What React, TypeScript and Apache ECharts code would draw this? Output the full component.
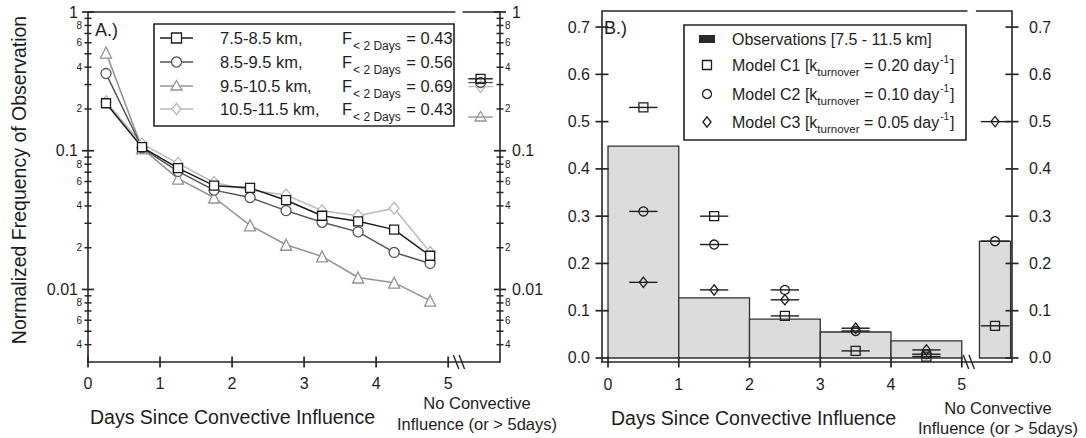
import React, { useEffect, useRef } from 'react';
import * as echarts from 'echarts';

const FONT = '"Liberation Sans", Arial, Helvetica, sans-serif';
const INK = '#1e1e1e';
const AXIS = '#262626';

// ---------- Panel A: normalized frequency per altitude layer ----------
const daysA = [0.25, 0.75, 1.25, 1.75, 2.25, 2.75, 3.25, 3.75, 4.25, 4.75];
const layerNames = ['7.5-8.5 km,', '8.5-9.5 km,', '9.5-10.5 km,', '10.5-11.5 km,'];
const fracUnder2Days = ['0.43', '0.56', '0.69', '0.43'];
const freqL1 = [0.22, 0.106, 0.075, 0.056, 0.054, 0.044, 0.034, 0.031, 0.027, 0.0175];
const freqL2 = [0.36, 0.105, 0.071, 0.052, 0.046, 0.037, 0.0305, 0.026, 0.0185, 0.0154];
const freqL3 = [0.51, 0.104, 0.063, 0.046, 0.029, 0.021, 0.0173, 0.0122, 0.0112, 0.0083];
const freqL4 = [0.225, 0.112, 0.081, 0.059, 0.052, 0.048, 0.037, 0.034, 0.0385, 0.0185];
const freqLayers = [freqL1, freqL2, freqL3, freqL4];
// frequency with no convective influence (or > 5 days), per layer
const noConvA = [0.33, 0.31, 0.175, 0.29];
const noConvDayA = 5.45;

// ---------- Panel B: observations vs. model turnover rates ----------
const obsStart = [0, 1, 2, 3, 4];
const obsEnd = [1, 2, 3, 4, 5];
const obsFreq = [0.448, 0.127, 0.082, 0.055, 0.036];
const noConvBarStart = 5.25;
const noConvBarEnd = 5.69;
const noConvObs = 0.247;
const daysB = [0.5, 1.5, 2.5, 3.5, 4.5, 5.47];
const modelC1 = [0.53, 0.3, 0.089, 0.015, 0.003, 0.068];
const modelC2 = [0.31, 0.24, 0.144, 0.057, 0.008, 0.247];
const modelC3 = [0.16, 0.144, 0.123, 0.063, 0.017, 0.5];
const modelNames = ['Model C1', 'Model C2', 'Model C3'];
const modelRates = ['0.20', '0.10', '0.05'];

// ---------- axis ticks ----------
const xTicks = [0, 1, 2, 3, 4, 5];
const logMajor = [0.01, 0.1, 1];
const logMinor = [
  0.004, 0.005, 0.006, 0.007, 0.008, 0.009,
  0.02, 0.03, 0.04, 0.05, 0.06, 0.07, 0.08, 0.09,
  0.2, 0.3, 0.4, 0.5, 0.6, 0.7, 0.8, 0.9,
];
const logLabels = [0.004, 0.006, 0.008, 0.01, 0.02, 0.04, 0.06, 0.08, 0.1, 0.2, 0.4, 0.6, 0.8, 1];
const linTicksB = [0, 0.1, 0.2, 0.3, 0.4, 0.5, 0.6, 0.7];

// axis extents
const A_XMIN = 0, A_XMAX = 5.72, A_YMIN = 0.003, A_YMAX = 1;
const B_XMIN = -0.085, B_XMAX = 5.71, B_YMIN = -0.0085, B_YMAX = 0.734;
// axis-break positions (days)
const breakA = [5.11, 5.19];
const breakB = [5.06, 5.14];

const layerColors = ['#1c1c1c', '#555555', '#939393', '#b9b9b9'];
const layerSymbols = ['rect', 'circle', 'triangle', 'diamond'];
const layerSymbolSizes: any[] = [9, 10, 11, [10, 12]];
const modelSymbols = ['rect', 'circle', 'diamond'];

function markerEl(kind: string, cx: number, cy: number, s: number, stroke: string, fill: string) {
  const h = s / 2;
  const style = { fill, stroke, lineWidth: 1.3 };
  if (kind === 'rect') return { type: 'rect', shape: { x: cx - h, y: cy - h, width: s, height: s }, style };
  if (kind === 'circle') return { type: 'circle', shape: { cx, cy, r: h }, style };
  if (kind === 'triangle')
    return {
      type: 'polygon',
      shape: { points: [[cx, cy - h * 1.1], [cx + h * 1.1, cy + h * 0.8], [cx - h * 1.1, cy + h * 0.8]] },
      style,
    };
  return {
    type: 'polygon',
    shape: { points: [[cx, cy - h * 1.15], [cx + h * 0.9, cy], [cx, cy + h * 1.15], [cx - h * 0.9, cy]] },
    style,
  };
}

// marker with a short horizontal bar through it
function markerSeries(name: string, xi: number, yi: number, data: number[][], kind: string, color: string, hw: number, size: number, z: number) {
  return {
    type: 'custom',
    name,
    xAxisIndex: xi,
    yAxisIndex: yi,
    z,
    clip: false,
    silent: true,
    data,
    encode: { x: 0, y: 1 },
    renderItem: (_p: any, api: any) => {
      const x = api.value(0), y = api.value(1);
      const c = api.coord([x, y]);
      const l = api.coord([x - hw, y]);
      const r = api.coord([x + hw, y]);
      return {
        type: 'group',
        children: [
          { type: 'line', shape: { x1: l[0], y1: c[1], x2: r[0], y2: c[1] }, style: { stroke: color, lineWidth: 1.4 } },
          markerEl(kind, c[0], c[1], size, color, 'none'),
        ],
      };
    },
  };
}

// crossing tick marks drawn as thin rectangular scatter symbols centred on the axis line
function tickScatter(xi: number, yi: number, points: number[][], size: number[]) {
  return {
    type: 'scatter',
    xAxisIndex: xi,
    yAxisIndex: yi,
    z: 10,
    clip: false,
    silent: true,
    symbol: 'rect',
    symbolSize: size,
    itemStyle: { color: AXIS, opacity: 1 },
    data: points,
  };
}

// break slashes on the x axis
function slashSeries(xi: number, yi: number, points: number[][]) {
  return {
    type: 'custom',
    xAxisIndex: xi,
    yAxisIndex: yi,
    z: 10,
    clip: false,
    silent: true,
    data: points,
    encode: { x: 0, y: 1 },
    renderItem: (_p: any, api: any) => {
      const p = api.coord([api.value(0), api.value(1)]);
      return {
        type: 'line',
        shape: { x1: p[0] - 2.7, y1: p[1] - 7, x2: p[0] + 2.7, y2: p[1] + 7 },
        style: { stroke: AXIS, lineWidth: 1.4 },
      };
    },
  };
}

// straight frame segments in data coordinates
function frameSeries(xi: number, yi: number, segs: number[][]) {
  return {
    type: 'custom',
    xAxisIndex: xi,
    yAxisIndex: yi,
    z: 10,
    clip: false,
    silent: true,
    data: segs,
    encode: { x: [0, 2], y: [1, 3] },
    renderItem: (_p: any, api: any) => {
      const a = api.coord([api.value(0), api.value(1)]);
      const b = api.coord([api.value(2), api.value(3)]);
      return { type: 'line', shape: { x1: a[0], y1: a[1], x2: b[0], y2: b[1] }, style: { stroke: AXIS, lineWidth: 1.6 } };
    },
  };
}

function logLabel(v: number) {
  const e = Math.floor(Math.log10(v) + 1e-9);
  const m = Math.round(v / Math.pow(10, e));
  if (m === 1) return '{b|' + (v >= 1 ? '1' : v.toFixed(-e)) + '}';
  return '{s|' + m + '}';
}

function axisLineStyle() {
  return { show: true, onZero: false, lineStyle: { color: AXIS, width: 1.6 } };
}

function buildOption() {
  const series: any[] = [];

  // Panel A lines (lightest drawn first so the darker ones sit on top)
  [3, 2, 1, 0].forEach((i) => {
    series.push({
      type: 'line',
      name: layerNames[i],
      xAxisIndex: 0,
      yAxisIndex: 0,
      data: daysA.map((d, j) => [d, freqLayers[i][j]]),
      symbol: layerSymbols[i],
      symbolSize: layerSymbolSizes[i],
      showAllSymbol: true,
      lineStyle: { color: layerColors[i], width: 1.5 },
      itemStyle: { color: '#ffffff', borderColor: layerColors[i], borderWidth: 1.3 },
      silent: true,
    });
  });
  [3, 2, 1, 0].forEach((i) => {
    series.push(
      markerSeries('nc-' + layerNames[i], 0, 0, [[noConvDayA, noConvA[i]]], layerSymbols[i], layerColors[i], 0.17, i === 0 ? 9 : 10, 3)
    );
  });

  // Panel A ticks & breaks
  series.push(tickScatter(0, 0, xTicks.map((t) => [t, A_YMIN]), [1.7, 11]));
  series.push(tickScatter(0, 0, logMajor.map((v) => [A_XMIN, v]).concat(logMajor.map((v) => [A_XMAX, v])), [12, 1.7]));
  series.push(tickScatter(0, 0, logMinor.map((v) => [A_XMIN, v]).concat(logMinor.map((v) => [A_XMAX, v])), [7, 1.5]));
  series.push(slashSeries(0, 0, breakA.map((b) => [b, A_YMIN])));
  series.push(frameSeries(0, 0, [[A_XMIN, A_YMAX, 5.1, A_YMAX], [5.2, A_YMAX, A_XMAX, A_YMAX]]));

  // Panel B observation histogram
  const bars = obsStart.map((s, i) => [s, obsEnd[i], obsFreq[i]]);
  bars.push([noConvBarStart, noConvBarEnd, noConvObs]);
  series.push({
    type: 'custom',
    name: 'Observations',
    xAxisIndex: 1,
    yAxisIndex: 1,
    z: 2,
    silent: true,
    data: bars,
    encode: { x: [0, 1], y: 2 },
    renderItem: (_p: any, api: any) => {
      const p0 = api.coord([api.value(0), 0]);
      const p1 = api.coord([api.value(1), api.value(2)]);
      return {
        type: 'rect',
        shape: { x: p0[0], y: p1[1], width: p1[0] - p0[0], height: p0[1] - p1[1] },
        style: { fill: '#dcdcdc', stroke: '#303030', lineWidth: 1.3 },
      };
    },
  });
  [modelC1, modelC2, modelC3].forEach((m, k) => {
    series.push(markerSeries(modelNames[k], 1, 1, daysB.map((d, i) => [d, m[i]]), modelSymbols[k], '#1e1e1e', 0.2, 9, 4));
  });

  series.push(tickScatter(1, 1, xTicks.map((t) => [t, B_YMIN]), [1.7, 11]));
  series.push(tickScatter(1, 1, linTicksB.map((v) => [B_XMIN, v]).concat(linTicksB.map((v) => [B_XMAX, v])), [13, 1.7]));
  series.push(slashSeries(1, 1, breakB.map((b) => [b, B_YMIN])));
  series.push(frameSeries(1, 1, [[B_XMIN, B_YMAX, 5.08, B_YMAX], [5.2, B_YMAX, B_XMAX, B_YMAX]]));

  // ---------- graphic: legends, titles ----------
  const g: any[] = [];
  const txt = (text: string, x: number, y: number, size: number, extra: any = {}) => ({
    type: 'text',
    x,
    y,
    z: 20,
    silent: true,
    style: { text, fontSize: size, fontFamily: FONT, fill: INK, textVerticalAlign: 'middle', ...extra },
  });

  g.push(txt('A.)', 95, 30, 18));
  g.push(txt('B.)', 604, 28, 18));

  // Legend A
  g.push({ type: 'rect', z: 15, silent: true, shape: { x: 154, y: 24, width: 300, height: 102 }, style: { fill: '#fff', stroke: '#222', lineWidth: 1.6 } });
  const rowsA = [38, 62, 86, 109];
  layerNames.forEach((n, i) => {
    const y = rowsA[i];
    g.push({ type: 'line', z: 20, silent: true, shape: { x1: 160, y1: y, x2: 193, y2: y }, style: { stroke: layerColors[i], lineWidth: 1.5 } });
    const m: any = markerEl(layerSymbols[i], 176.5, y, 10, layerColors[i], '#fff');
    m.z = 21; m.silent = true;
    g.push(m);
    g.push(txt(n, 220, y, 16.5));
    g.push({
      type: 'text', x: 342, y, z: 20, silent: true,
      style: {
        text: '{f|F}{u|< 2 Days}{f| = ' + fracUnder2Days[i] + '}',
        textVerticalAlign: 'middle',
        rich: {
          f: { fontSize: 16.5, fontFamily: FONT, fill: INK, color: INK },
          u: { fontSize: 12, fontFamily: FONT, fill: INK, color: INK, padding: [15, 1, 0, 1] },
        },
      },
    });
  });

  // Legend B
  g.push({ type: 'rect', z: 15, silent: true, shape: { x: 684, y: 25, width: 282, height: 115 }, style: { fill: '#fff', stroke: '#222', lineWidth: 1.6 } });
  const rowsB = [39, 65, 94, 122];
  g.push({ type: 'rect', z: 20, silent: true, shape: { x: 699, y: 35, width: 16, height: 8 }, style: { fill: '#2a2a2a' } });
  g.push(txt('Observations [7.5 - 11.5 km]', 732, rowsB[0], 16));
  modelNames.forEach((n, k) => {
    const y = rowsB[k + 1];
    const m: any = markerEl(modelSymbols[k], 707, y, 9, '#1e1e1e', 'none');
    m.z = 20; m.silent = true;
    g.push(m);
    g.push({
      type: 'text', x: 732, y, z: 20, silent: true,
      style: {
        text: '{t|' + n + ' [k}{u|turnover}{t| = ' + modelRates[k] + ' day}{p|-1}{t|]}',
        textVerticalAlign: 'middle',
        rich: {
          t: { fontSize: 16, fontFamily: FONT, fill: INK, color: INK },
          u: { fontSize: 11.5, fontFamily: FONT, fill: INK, color: INK, padding: [14, 0, 0, 0] },
          p: { fontSize: 10, fontFamily: FONT, fill: INK, color: INK, padding: [0, 1, 12, 1] },
        },
      },
    });
  });

  // axis titles
  const yTitle: any = txt('Normalized Frequency of Observation', 19, 180, 19.5, { textAlign: 'center' });
  yTitle.rotation = Math.PI / 2;
  g.push(yTitle);
  g.push(txt('Days Since Convective Influence', 90, 417, 19.5));
  g.push(txt('Days Since Convective Influence', 611, 418, 19.5));
  g.push(txt('No Convective\nInfluence (or > 5days)', 477, 413.5, 16.5, { textAlign: 'center', lineHeight: 21 }));
  g.push(txt('No Convective\nInfluence (or > 5days)', 998, 418, 16.5, { textAlign: 'center', lineHeight: 20 }));

  const labelBase = { color: INK, fontFamily: FONT, fontSize: 16 };
  const richLeft = {
    b: { fontSize: 16, fontFamily: FONT, color: INK, padding: [0, 4, 0, 0] },
    s: { fontSize: 10, fontFamily: FONT, color: INK },
  };
  const richRight = {
    b: { fontSize: 16, fontFamily: FONT, color: INK, padding: [0, 0, 0, 7] },
    s: { fontSize: 10, fontFamily: FONT, color: INK },
  };

  return {
    animation: false,
    backgroundColor: '#ffffff',
    textStyle: { fontFamily: FONT },
    grid: [
      { left: 88, top: 12, width: 412, height: 350, outerBoundsMode: 'none', containLabel: false },
      { left: 602, top: 11, width: 410, height: 351, outerBoundsMode: 'none', containLabel: false },
    ],
    xAxis: [
      {
        gridIndex: 0, type: 'value', min: A_XMIN, max: A_XMAX,
        axisLine: axisLineStyle(), axisTick: { show: false }, splitLine: { show: false },
        axisLabel: { ...labelBase, customValues: xTicks, margin: 13 },
      },
      {
        gridIndex: 1, type: 'value', min: B_XMIN, max: B_XMAX,
        axisLine: axisLineStyle(), axisTick: { show: false }, splitLine: { show: false },
        axisLabel: { ...labelBase, customValues: xTicks, margin: 14 },
      },
    ],
    yAxis: [
      {
        gridIndex: 0, type: 'log', min: A_YMIN, max: A_YMAX, position: 'left',
        axisLine: axisLineStyle(), axisTick: { show: false }, splitLine: { show: false }, minorTick: { show: false },
        axisLabel: { ...labelBase, customValues: logLabels, margin: 6, formatter: logLabel, rich: richLeft },
      },
      {
        gridIndex: 1, type: 'value', min: B_YMIN, max: B_YMAX, position: 'left',
        axisLine: axisLineStyle(), axisTick: { show: false }, splitLine: { show: false },
        axisLabel: { ...labelBase, customValues: linTicksB, margin: 12, formatter: (v: number) => v.toFixed(1) },
      },
      {
        gridIndex: 0, type: 'log', min: A_YMIN, max: A_YMAX, position: 'right',
        axisLine: axisLineStyle(), axisTick: { show: false }, splitLine: { show: false }, minorTick: { show: false },
        axisLabel: { ...labelBase, customValues: logLabels, margin: 5, formatter: logLabel, rich: richRight },
      },
      {
        gridIndex: 1, type: 'value', min: B_YMIN, max: B_YMAX, position: 'right',
        axisLine: axisLineStyle(), axisTick: { show: false }, splitLine: { show: false },
        axisLabel: { ...labelBase, customValues: linTicksB, margin: 17, formatter: (v: number) => v.toFixed(1) },
      },
    ],
    series,
    graphic: g,
  };
}

export default function App() {
  const ref = useRef<HTMLDivElement>(null);
  useEffect(() => {
    const chart = echarts.init(ref.current as HTMLDivElement, null, { renderer: 'svg' });
    chart.setOption(buildOption() as any);
    return () => chart.dispose();
  }, []);
  return (
    <div
      ref={ref}
      style={{ position: 'fixed', left: 0, top: 0, width: 1086, height: 438, background: '#ffffff' }}
    />
  );
}
